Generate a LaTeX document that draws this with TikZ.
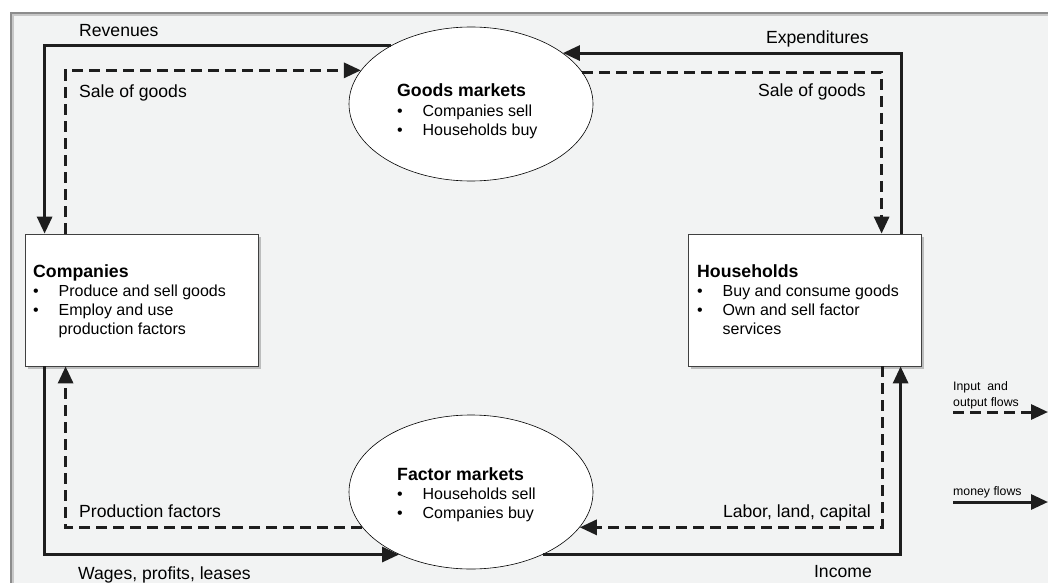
\documentclass[tikz,border=0pt]{standalone}
\usepackage{fontspec}
\setmainfont{Liberation Sans}
\usetikzlibrary{arrows.meta,shapes.geometric,shadows}
\definecolor{panel}{HTML}{F2F3F3}
\definecolor{ink}{HTML}{1E1E1E}
\newcommand{\bitem}[1]{\makebox[25.5pt][l]{\textbullet}#1}
\newcommand{\bcont}[1]{\hspace*{25.5pt}#1}
\newcommand{\btitle}[1]{{\fontsize{17.7}{19.3}\selectfont\bfseries #1}}
\begin{document}
\begin{tikzpicture}[x=1pt,y=-1pt,
  money/.style={draw=ink, line width=3pt, -{Triangle[length=17pt,width=15pt]}},
  inout/.style={money, dash pattern=on 11pt off 6pt},
  agent/.style={rectangle, draw=black!75, line width=0.8pt, fill=white,
    minimum width=233pt, minimum height=132pt, inner sep=0pt,
    drop shadow={shadow xshift=2.5pt, shadow yshift=-2.5pt, fill=black!40, opacity=0.6}},
  market/.style={ellipse, draw=black, line width=0.6pt, fill=white,
    minimum width=244pt, minimum height=154pt, inner sep=0pt},
  block/.style={anchor=base west, inner sep=0pt, font=\fontsize{16}{19.3}\selectfont},
  flowlabel/.style={inner sep=0pt, font=\fontsize{17.6}{20}\selectfont},
  legendlabel/.style={anchor=base west, inner sep=0pt, font=\fontsize{12.3}{14}\selectfont}
]
\useasboundingbox (0,0) rectangle (1048,583);
% page and panel
\fill[white] (0,0) rectangle (1048,583);
\fill[panel] (10,12) rectangle (1048,583);
\draw[line width=2pt, black!45] (10,13) -- (1048,13);
\draw[line width=2pt, black!22] (12,15) -- (1048,15);
\draw[line width=2pt, black!45] (11,12) -- (11,583);
\draw[line width=2pt, black!22] (13,14) -- (13,583);

% agents and markets
\node[agent] (comp) at (141.5,300) {};
\node[agent] (hh) at (804.5,300) {};
\node[market] (goods) at (471,104) {};
\node[market] (factor) at (471,492) {};

% flows between companies and goods market
\draw[money] (goods.144.7) -| ([xshift=20pt]comp.north west);
\draw[inout] ([xshift=41pt]comp.north west) |- (goods.163.3);
% flows between households and goods market
\draw[money] ([xshift=214pt]hh.north west) |- (goods.29.4);
\draw[inout] (goods.16.7) -| ([xshift=194pt]hh.north west);
% flows between companies and factor market
\draw[money] ([xshift=20pt]comp.south west) |- (factor.221.9);
\draw[inout] (factor.198.5) -| ([xshift=41pt]comp.south west);
% flows between households and factor market
\draw[inout] ([xshift=195pt]hh.south west) |- (factor.-18.5);
\draw[money] (factor.-41.9) -| ([xshift=213pt]hh.south west);

% node texts
\node[block] (comptext) at (33,277) {\begin{tabular}[t]{@{}l@{}}
  \btitle{Companies}\\
  \bitem{Produce and sell goods}\\
  \bitem{Employ and use}\\
  \bcont{production factors}
\end{tabular}};
\node[block] (hhtext) at (697,277) {\begin{tabular}[t]{@{}l@{}}
  \btitle{Households}\\
  \bitem{Buy and consume goods}\\
  \bitem{Own and sell factor}\\
  \bcont{services}
\end{tabular}};
\node[block] (goodstext) at (397,97) {\begin{tabular}[t]{@{}l@{}}
  \btitle{Goods markets}\\
  \bitem{Companies sell}\\
  \bitem{Households buy}
\end{tabular}};
\node[block] (factortext) at (397,480) {\begin{tabular}[t]{@{}l@{}}
  \btitle{Factor markets}\\
  \bitem{Households sell}\\
  \bitem{Companies buy}
\end{tabular}};

% flow labels
\node[flowlabel, anchor=base west] (lrev) at (79,37) {Revenues};
\node[flowlabel, anchor=base west] (lsale1) at (79,98) {Sale of goods};
\node[flowlabel, anchor=base east] (lexp) at (869,44) {Expenditures};
\node[flowlabel, anchor=base east] (lsale2) at (866,97) {Sale of goods};
\node[flowlabel, anchor=base west] (lprod) at (79,517) {Production factors};
\node[flowlabel, anchor=base west] (lwage) at (78,579) {Wages, profits, leases};
\node[flowlabel, anchor=base east] (llab) at (871,517) {Labor, land, capital};
\node[flowlabel, anchor=base east] (linc) at (872,577) {Income};

% legend
\node[legendlabel] (leg1) at (953,390) {Input\ \ and};
\node[legendlabel] (leg2) at (953,406) {output flows};
\node[legendlabel] (leg3) at (953,495) {money flows};
\coordinate (lga) at (953,412);
\coordinate (lgb) at (1048,412);
\coordinate (lgc) at (953,502);
\coordinate (lgd) at (1048,502);
\draw[inout] (lga) -- (lgb);
\draw[money] (lgc) -- (lgd);
\end{tikzpicture}
\end{document}
